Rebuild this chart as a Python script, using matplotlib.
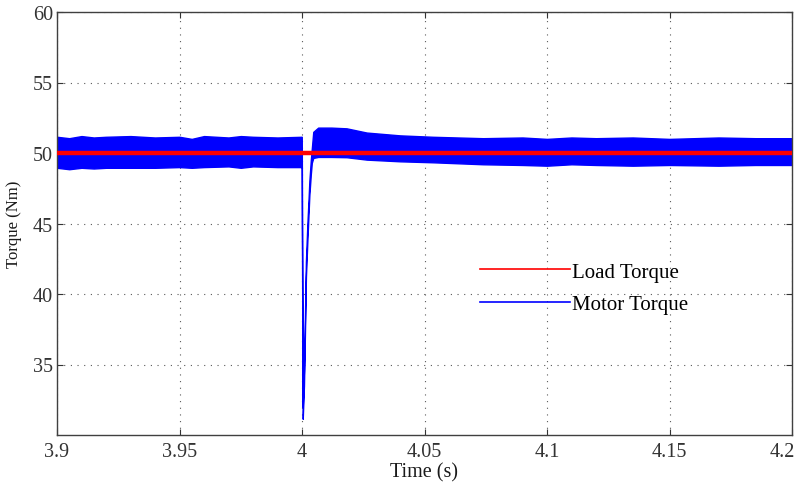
import matplotlib

matplotlib.use("Agg")
import matplotlib.pyplot as plt
import matplotlib.transforms as mtransforms
from matplotlib.lines import Line2D

plt.rcParams["font.family"] = ["Liberation Serif", "DejaVu Serif"]

# load torque reference (Nm)
t_load = [3.9, 4.2]
load_torque = [50.0, 50.0]

# motor torque ripple envelope (time in s, torque in Nm)
t_motor = [
    3.900, 3.905, 3.910, 3.915, 3.920, 3.930, 3.940, 3.950, 3.955, 3.960, 3.970,
    3.975, 3.980, 3.990, 3.9999,
    3.99995, 4.0003, 4.0008, 4.0012, 4.0016, 4.0022, 4.0027, 4.0030, 4.0036,
    4.0040, 4.0046, 4.0066, 4.0120, 4.0182, 4.0264, 4.0400, 4.0535, 4.0739,
    4.0900, 4.1000, 4.1100, 4.1200, 4.1350, 4.1500, 4.1700, 4.1850, 4.2000,
]
motor_upper = [
    51.15, 51.05, 51.20, 51.10, 51.15, 51.20, 51.10, 51.15, 51.00, 51.20, 51.10,
    51.20, 51.15, 51.10, 51.15,
    49.00, 32.00, 34.60, 38.30, 42.30, 45.00, 46.80, 48.00, 49.50,
    50.30, 51.50, 51.80, 51.80, 51.75, 51.45, 51.25, 51.15, 51.05,
    51.10, 51.00, 51.10, 51.05, 51.10, 51.00, 51.10, 51.05, 51.05,
]
motor_lower = [
    48.95, 48.85, 48.95, 48.90, 48.95, 48.95, 48.95, 49.00, 48.95, 49.00, 49.05,
    48.95, 49.05, 49.00, 49.00,
    45.00, 31.15, 33.50, 37.20, 41.20, 43.80, 45.80, 47.00, 48.50,
    49.30, 49.65, 49.72, 49.72, 49.70, 49.53, 49.41, 49.34, 49.20,
    49.15, 49.10, 49.20, 49.15, 49.10, 49.15, 49.10, 49.15, 49.15,
]

x_ticks = [3.9, 3.95, 4.0, 4.05, 4.1, 4.15, 4.2]
x_tick_labels = ["3.9", "3.95", "4", "4.05", "4.1", "4.15", "4.2"]
y_ticks = [35, 40, 45, 50, 55, 60]


def main():
    fig = plt.figure(figsize=(7.97, 4.85), dpi=100)
    ax = fig.add_axes([57 / 797, 1 - 436 / 485, 735 / 797, 423 / 485])

    ax.fill_between(t_motor, motor_lower, motor_upper, color="#0000ff",
                    edgecolor="#0000ff", linewidth=1.0, zorder=2)
    ax.plot(t_load, load_torque, color="#ff0000", linewidth=3.2, zorder=3,
            solid_capstyle="butt")

    ax.set_xlim(3.9, 4.2)
    ax.set_ylim(30, 60)
    ax.set_xticks(x_ticks, x_tick_labels)
    ax.set_yticks(y_ticks)
    ax.grid(True, linestyle=(0, (1, 5)), color="0.35", linewidth=0.8)
    ax.set_axisbelow(True)
    ax.tick_params(direction="in", length=4, width=0.8, top=True, right=True,
                   labelsize=14.5, colors="0.2", pad=5)
    ax.tick_params(axis="y", pad=3)
    for spine in ax.spines.values():
        spine.set_color("0.25")
        spine.set_linewidth(1.0)

    # last x label sits at the picture edge, nudge it inside
    last = ax.get_xticklabels()[-1]
    last.set_transform(last.get_transform()
                       + mtransforms.ScaledTranslation(-10 / 100, 0, fig.dpi_scale_trans))

    ax.set_xlabel("Time (s)", fontsize=14.5, color="0.1", labelpad=1)
    ax.set_ylabel("Torque (Nm)", fontsize=12, color="0.1", labelpad=8)

    handles = [
        Line2D([], [], color="#ff0000", linewidth=1.2),
        Line2D([], [], color="#0000ff", linewidth=1.2),
    ]
    ax.legend(handles, ["Load Torque", "Motor Torque"], loc="center left",
              bbox_to_anchor=((480 - 57) / 735, (436 - 289) / 423),
              frameon=False, fontsize=15, handlelength=4.3, handletextpad=0.1,
              labelspacing=0.6, borderpad=0, borderaxespad=0)

    fig.savefig("out.png", dpi=100)
    plt.close(fig)


if __name__ == "__main__":
    main()
